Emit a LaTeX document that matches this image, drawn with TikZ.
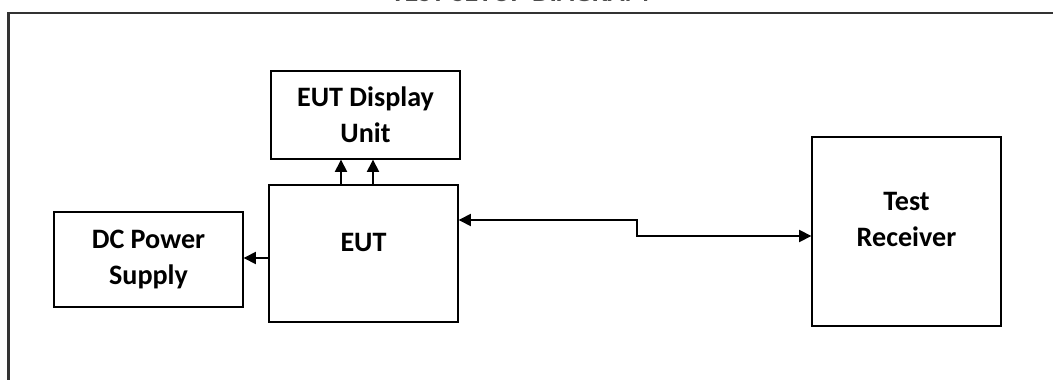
\documentclass[tikz,border=0pt]{standalone}
\usepackage{fontspec}
\setmainfont{Carlito}
\usetikzlibrary{positioning,calc,arrows.meta}

\tikzset{
  blk/.style={draw, line width=0.8pt, inner sep=0pt, align=center,
              font=\fontsize{16pt}{20.5pt}\selectfont\bfseries},
  arr/.style={line width=0.8pt, -{Triangle[length=7pt,width=7pt]}},
  arrb/.style={line width=0.8pt, {Triangle[length=7pt,width=7pt]}-{Triangle[length=7pt,width=7pt]}}
}

\begin{document}
\begin{tikzpicture}[x=0.02cm,y=0.02cm]
\useasboundingbox (0,0) rectangle (1053,379);
% frame and cut-off heading
\draw[line width=1.3pt, black!80] (8.5,-10) -- (8.5,366) -- (1070,366);
\node[anchor=base, font=\fontsize{16pt}{20pt}\selectfont\bfseries, text=black!70] (title) at (520,377.5) {TEST SETUP DIAGRAM};
%
\node[blk, minimum width=3.78cm, minimum height=1.76cm] (disp) at (365.5,264) {EUT Display\\Unit};
\node[blk, minimum width=3.78cm, minimum height=2.74cm, text depth=12.5pt] (eut) at (363.5,125.5) {EUT};
\node[blk, minimum width=3.78cm, minimum height=1.9cm] (dc) at (148.5,119.5) {DC Power\\Supply};
\node[blk, minimum width=3.78cm, minimum height=3.78cm, text depth=13.5pt] (rx) at (906.5,147.5) {Test\\Receiver};
%
\coordinate (u1) at ($(eut.north)+(-22.5,0)$);
\coordinate (u2) at ($(eut.north)+(9.5,0)$);
\draw[arr] (u1) -- (u1 |- disp.south);
\draw[arr] (u2) -- (u2 |- disp.south);
\coordinate (p) at ($(eut.west)+(0,-4.5)$);
\draw[arr] (p) -- (p -| dc.east);
% link to receiver
\coordinate (k1) at (637,159);
\coordinate (k2) at (637,143);
\draw[arrb] (k1 -| eut.east) -- (k1) -- (k2) -- (k2 -| rx.west);
\end{tikzpicture}
\end{document}
